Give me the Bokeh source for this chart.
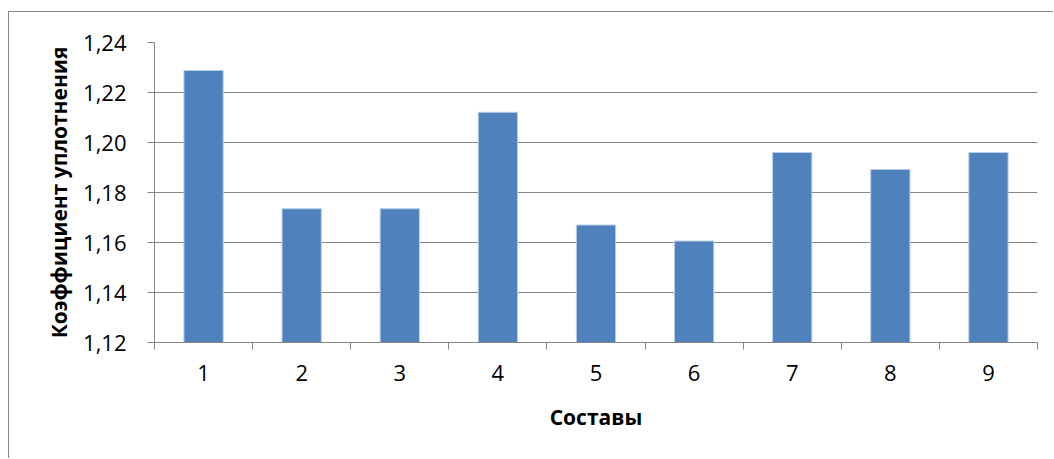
from bokeh.plotting import figure
from bokeh.models import FixedTicker, CustomJSTickFormatter, Range1d
from bokeh.embed import file_html
from bokeh.resources import INLINE

categories = ["1", "2", "3", "4", "5", "6", "7", "8", "9"]
values = [1.2288, 1.1735, 1.1735, 1.2121, 1.1670, 1.1606, 1.1960, 1.1892, 1.1960]
y_ticks = [1.12, 1.14, 1.16, 1.18, 1.20, 1.22, 1.24]

x_pos = [i + 1 for i in range(len(categories))]

p = figure(width=1045, height=447, output_backend="svg", toolbar_location=None,
           x_range=Range1d(0.5, len(categories) + 0.5), y_range=Range1d(1.12, 1.24),
           min_border_left=145, min_border_top=30, min_border_right=17, min_border_bottom=117)
p.styles = {"margin-left": "8px", "margin-top": "11px",
            "border-left": "1px solid #878787", "border-top": "1px solid #878787"}
p.outline_line_color = None
p.background_fill_color = "white"
p.border_fill_color = "white"

p.vbar(x=x_pos, top=values, bottom=1.12, width=0.4, fill_color="#4F81BD",
       line_color="#B9CDE5", line_width=1)

font = "Open Sans"
# X axis
p.xaxis.ticker = FixedTicker(ticks=x_pos, minor_ticks=[i + 0.5 for i in range(len(categories) + 1)])
p.xaxis.major_label_overrides = {x: c for x, c in zip(x_pos, categories)}
p.xaxis.major_tick_out = 0
p.xaxis.major_tick_in = 0
p.xaxis.minor_tick_out = 7
p.xaxis.minor_tick_in = 0
p.xaxis.minor_tick_line_color = "#868686"
p.xaxis.axis_line_color = "#868686"
p.xaxis.major_label_standoff = 15
p.xaxis.major_label_text_font = font
p.xaxis.major_label_text_font_size = "22px"
p.xaxis.major_label_text_color = "black"
p.xaxis.axis_label = "Составы"
p.xaxis.axis_label_text_font = font
p.xaxis.axis_label_text_font_size = "21px"
p.xaxis.axis_label_text_font_style = "bold"
p.xaxis.axis_label_text_color = "black"
p.xaxis.axis_label_standoff = 19

# Y axis
p.yaxis.ticker = FixedTicker(ticks=y_ticks, minor_ticks=[])
p.yaxis.formatter = CustomJSTickFormatter(code="return tick.toFixed(2).replace('.', ',');")
p.yaxis.major_tick_out = 7
p.yaxis.major_tick_in = 0
p.yaxis.major_tick_line_color = "#868686"
p.yaxis.axis_line_color = "#868686"
p.yaxis.major_label_standoff = 21
p.yaxis.major_label_text_font = font
p.yaxis.major_label_text_font_size = "22px"
p.yaxis.major_label_text_color = "black"
p.yaxis.axis_label = "Коэффициент уплотнения"
p.yaxis.axis_label_text_font = font
p.yaxis.axis_label_text_font_size = "21px"
p.yaxis.axis_label_text_font_style = "bold"
p.yaxis.axis_label_text_color = "black"
p.yaxis.axis_label_standoff = 7

p.xgrid.grid_line_color = None
p.ygrid.grid_line_color = "#868686"
p.ygrid.grid_line_width = 1

open("out.html", "w").write(file_html(p, INLINE))
